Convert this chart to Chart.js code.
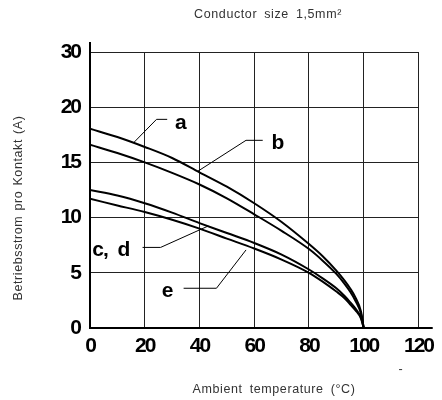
<!DOCTYPE html>
<html>
<head>
<meta charset="utf-8">
<script src="https://cdn.jsdelivr.net/npm/chart.js@4.4.0/dist/chart.umd.min.js"></script>
<style>
  html, body { margin: 0; padding: 0; background: #fff; }
</style>
</head>
<body>
<canvas id="grafico" width="442" height="400"></canvas>
<script>
// temperatura ambiente (°C)
const temperaturas = [0, 10, 20, 30, 40, 50, 60, 70, 80, 85, 90, 93, 95, 97, 99, 100];

// corriente por contacto (A) para cada curva
const curvaA = [18.05, 17.3, 16.4, 15.4, 14.1, 12.8, 11.3, 9.6, 7.6, 6.5, 5.2, 4.3, 3.6, 2.75, 1.5, 0];
const curvaB = [16.6, 15.85, 15.0, 14.05, 13.0, 11.75, 10.3, 8.8, 7.15, 6.1, 4.9, 4.0, 3.3, 2.45, 1.3, 0];
const curvaCD = [12.5, 12.0, 11.3, 10.45, 9.5, 8.6, 7.7, 6.65, 5.3, 4.5, 3.6, 2.9, 2.35, 1.75, 0.95, 0];
const curvaE = [11.7, 11.1, 10.5, 9.8, 9.0, 8.1, 7.2, 6.2, 5.0, 4.2, 3.3, 2.7, 2.15, 1.6, 0.85, 0];

// etiquetas de los ejes
const ticksX = [0, 20, 40, 60, 80, 100, 120];
const ticksY = ["0", "5", "10", "15", "20", "30"];

// lineas guia de las etiquetas (a, b, c d, e)
const guiaA = [[16.2, 16.85], [24.3, 18.9], [28.2, 18.9]];
const guiaB = [[39.4, 14.2], [57.0, 17.0], [63.1, 17.0]];
const guiaCD = [[19.2, 7.3], [25.8, 7.3], [43.2, 9.24]];
const guiaE = [[34.2, 3.6], [46.2, 3.6], [57.0, 7.07]];

const etiquetas = [
  { texto: "a", x: 33.0, y: 18.55 },
  { texto: "b", x: 68.5, y: 16.75 },
  { texto: "c,  d", x: 7.6, y: 7.07 },
  { texto: "e", x: 28.2, y: 3.3 },
];

const fuenteNumeros = "'Liberation Sans', Arial, sans-serif";
const fuenteTexto = "'Liberation Sans', Arial, sans-serif";

function puntos(valores) {
  return temperaturas.map((t, i) => ({ x: t, y: valores[i] }));
}
function guia(coords) {
  return coords.map((c) => ({ x: c[0], y: c[1] }));
}

function curva(valores) {
  return {
    data: puntos(valores),
    borderColor: "#000",
    borderWidth: 2,
    pointRadius: 0,
    cubicInterpolationMode: "monotone",
    fill: false,
  };
}
function linea(coords) {
  return {
    data: guia(coords),
    borderColor: "#000",
    borderWidth: 1,
    pointRadius: 0,
    tension: 0,
    fill: false,
  };
}

// textos y ejes extendidos
const textosPlugin = {
  id: "textos",
  beforeDraw(chart) {
    // numeros de los ejes mas apretados
    chart.ctx.letterSpacing = "-2px";
  },
  afterDraw(chart) {
    const ctx = chart.ctx;
    const sx = chart.scales.x;
    const sy = chart.scales.y;
    const area = chart.chartArea;
    ctx.save();

    // ejes (un poco mas largos que la grilla)
    ctx.strokeStyle = "#000";
    ctx.lineWidth = 2;
    ctx.beginPath();
    ctx.moveTo(sx.getPixelForValue(0), sy.getPixelForValue(25.9));
    ctx.lineTo(sx.getPixelForValue(0), sy.getPixelForValue(0));
    ctx.lineTo(sx.getPixelForValue(125.2), sy.getPixelForValue(0));
    ctx.stroke();

    // etiquetas de las curvas
    ctx.fillStyle = "#000";
    ctx.font = "bold 21px " + fuenteNumeros;
    ctx.letterSpacing = "-1px";
    ctx.textAlign = "center";
    ctx.textBaseline = "middle";
    etiquetas.forEach((e) => {
      ctx.fillText(e.texto, sx.getPixelForValue(e.x), sy.getPixelForValue(e.y));
    });

    // titulos
    ctx.fillStyle = "#333";
    ctx.font = "12.5px " + fuenteTexto;
    ctx.letterSpacing = "0.6px";
    ctx.wordSpacing = "3px";
    ctx.fillText("Conductor size 1,5mm²", area.left + 178, 15);
    ctx.fillText("Ambient temperature (°C)", area.left + 184, 390);
    ctx.fillText("-", sx.getPixelForValue(113.6), 370);

    ctx.wordSpacing = "1px";
    ctx.translate(19, (area.top + area.bottom) / 2 + 18);
    ctx.rotate(-Math.PI / 2);
    ctx.fillText("Betriebsstrom pro Kontakt (A)", 0, 0);
    ctx.restore();
  },
};

new Chart(document.getElementById("grafico").getContext("2d"), {
  type: "line",
  data: {
    datasets: [
      curva(curvaA),
      curva(curvaB),
      curva(curvaCD),
      curva(curvaE),
      linea(guiaA),
      linea(guiaB),
      linea(guiaCD),
      linea(guiaE),
    ],
  },
  options: {
    responsive: false,
    animation: false,
    layout: { padding: { left: 0, right: 19, top: 52, bottom: 0 } },
    scales: {
      x: {
        type: "linear",
        min: 0,
        max: 120,
        afterBuildTicks: (scale) => {
          scale.ticks = ticksX.map((v) => ({ value: v }));
        },
        afterFit: (scale) => {
          scale.height = 72;
        },
        grid: { color: "#222", lineWidth: 1, drawTicks: false },
        border: { display: false },
        ticks: {
          padding: 6,
          color: "#000",
          maxRotation: 0,
          font: { family: fuenteNumeros, size: 21, weight: "bold" },
        },
      },
      y: {
        type: "linear",
        min: 0,
        max: 25,
        afterBuildTicks: (scale) => {
          scale.ticks = ticksY.map((t, i) => ({ value: i * 5 }));
        },
        afterFit: (scale) => {
          scale.width = 90;
        },
        grid: { color: "#222", lineWidth: 1, drawTicks: false },
        border: { display: false },
        ticks: {
          padding: 10,
          color: "#000",
          font: { family: fuenteNumeros, size: 21, weight: "bold" },
          callback: (value) => ticksY[value / 5],
        },
      },
    },
    plugins: {
      legend: { display: false },
      tooltip: { enabled: false },
    },
  },
  plugins: [textosPlugin],
});
</script>
</body>
</html>
